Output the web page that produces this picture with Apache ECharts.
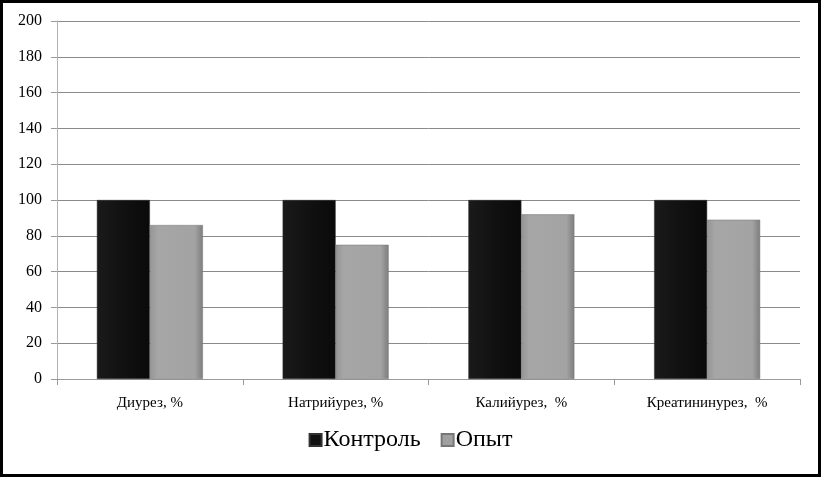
<!DOCTYPE html>
<html>
<head>
<meta charset="utf-8">
<script src="https://cdn.jsdelivr.net/npm/echarts@6/dist/echarts.min.js"></script>
<style>
  html, body { margin: 0; padding: 0; background: #fff; }
  #chart { width: 821px; height: 477px; box-sizing: border-box; border: 3px solid #000; }
</style>
</head>
<body>
<div id="chart"></div>
<script>
var categories = ["Диурез, %", "Натрийурез, %", "Калийурез,  %", "Креатининурез,  %"];
var controlValues = [100, 100, 100, 100];
var experimentValues = [86, 75, 92, 89];
var yTicks = [0, 20, 40, 60, 80, 100, 120, 140, 160, 180, 200];

var dom = document.getElementById("chart");
var myChart = echarts.init(dom, null, { renderer: "canvas" });

// bevelled look of the original bars
var darkFill = new echarts.graphic.LinearGradient(0, 0, 1, 0, [
  { offset: 0, color: "#1a1a1a" },
  { offset: 0.5, color: "#111111" },
  { offset: 1, color: "#0a0a0a" }
]);
var greyFill = new echarts.graphic.LinearGradient(0, 0, 1, 0, [
  { offset: 0, color: "#959595" },
  { offset: 0.15, color: "#a6a6a6" },
  { offset: 0.85, color: "#a3a3a3" },
  { offset: 1, color: "#7d7d7d" }
]);

var option = {
  animation: false,
  textStyle: { fontFamily: "Liberation Serif" },
  grid: { left: 54, right: 18, top: 18, bottom: 95 },
  legend: {
    bottom: 17,
    left: "center",
    icon: "rect",
    itemWidth: 12,
    itemHeight: 12,
    itemGap: 20,
    textStyle: { fontFamily: "Liberation Serif", fontSize: 24, color: "#000", padding: [0, 0, 0, -3] },
    data: [
      { name: "Контроль", itemStyle: { color: "#111" } },
      { name: "Опыт", itemStyle: { color: "#a0a0a0" } }
    ]
  },
  xAxis: {
    type: "category",
    data: categories,
    axisLine: { lineStyle: { color: "#9a9a9a", width: 1 } },
    axisTick: { show: true, length: 6, lineStyle: { color: "#9a9a9a" } },
    axisLabel: { color: "#000", fontSize: 15, margin: 17 }
  },
  yAxis: {
    type: "value",
    min: 0,
    max: yTicks[yTicks.length - 1],
    interval: 20,
    axisLine: { show: true, lineStyle: { color: "#b0b0b0" } },
    axisTick: { show: true, length: 6, lineStyle: { color: "#9a9a9a" } },
    axisLabel: { color: "#000", fontSize: 16, margin: 15 },
    splitLine: { lineStyle: { color: "#8a8a8a", width: 1 } }
  },
  series: [
    {
      name: "Контроль",
      type: "bar",
      data: controlValues,
      barWidth: 53,
      barGap: "0%",
      itemStyle: { color: darkFill, borderColor: "#333", borderWidth: 0.5 }
    },
    {
      name: "Опыт",
      type: "bar",
      data: experimentValues,
      barWidth: 53,
      itemStyle: { color: greyFill, borderColor: "#777", borderWidth: 0.5 }
    }
  ]
};

myChart.setOption(option);
</script>
</body>
</html>
